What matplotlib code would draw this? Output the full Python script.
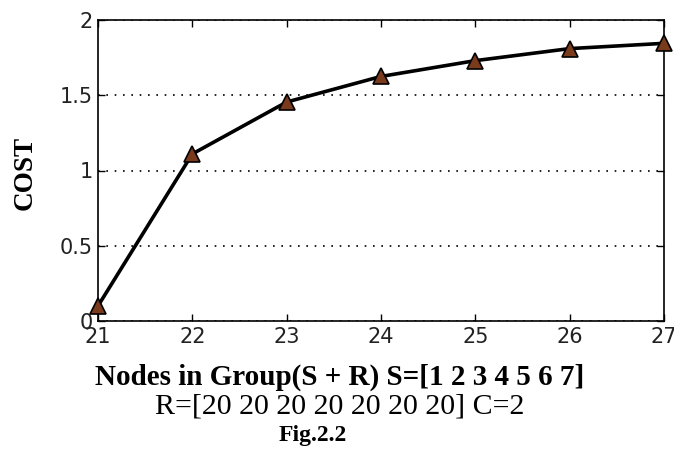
import matplotlib
matplotlib.use("Agg")
import matplotlib.pyplot as plt

nodes = [21, 22, 23, 24, 25, 26, 27]
cost = [0.10, 1.11, 1.455, 1.625, 1.73, 1.81, 1.845]
yticks = [0, 0.5, 1, 1.5, 2]
yticklabels = ["0", "0.5", "1", "1.5", "2"]

fig = plt.figure(figsize=(6.74, 4.5), dpi=100)
ax = fig.add_axes([98/674, 1-321/450, (664-98)/674, (321-20)/450])
ax.plot(nodes, cost, color="black", lw=2.6, marker="^", markersize=11,
        markerfacecolor="#7a3b1c", markeredgecolor="black", markeredgewidth=1.2,
        clip_on=False, zorder=3)
ax.set_xlim(21, 27)
ax.set_ylim(0, 2)
ax.set_xticks(nodes)
ax.set_yticks(yticks)
ax.set_yticklabels(yticklabels)
ax.tick_params(direction="in", top=True, right=True, length=5, width=1,
               labelsize=15, pad=4)
for lab in ax.get_xticklabels() + ax.get_yticklabels():
    lab.set_family("DejaVu Sans")
    lab.set_color("#222222")
ax.yaxis.grid(True, linestyle=(0, (1, 4)), color="black", lw=1.2)
for s in ax.spines.values():
    s.set_linewidth(1.2)

fig.text(25/674, 1-173/450, "COST", rotation=90, ha="center", va="center",
         family="Liberation Serif", weight="bold", fontsize=19.5)
fig.text(340/674, 1-377/450, "Nodes in Group(S + R) S=[1 2 3 4 5 6 7]",
         ha="center", va="center", family="Liberation Serif", weight="bold", fontsize=21)
fig.text(340/674, 1-407/450, "R=[20 20 20 20 20 20 20] C=2",
         ha="center", va="center", family="Liberation Serif", fontsize=21.5)
fig.text(313/674, 1-435/450, "Fig.2.2",
         ha="center", va="center", family="Liberation Serif", weight="bold", fontsize=17)

fig.savefig("out.png", dpi=100)
